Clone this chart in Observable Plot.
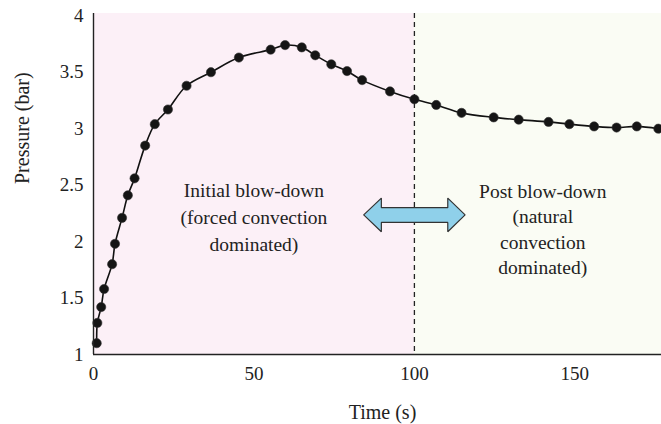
<!DOCTYPE html>
<html>
<head>
<meta charset="utf-8">
<script src="https://cdn.jsdelivr.net/npm/d3@7"></script>
<script src="https://cdn.jsdelivr.net/npm/@observablehq/plot@0.6"></script>
<style>
  html, body { margin: 0; padding: 0; background: #fff; }
  #chart { width: 661px; height: 424px; }
</style>
</head>
<body>
<div id="chart"></div>
<script>
const time = [1.0, 1.2, 2.4, 3.3, 5.8, 6.7, 8.9, 10.7, 12.8, 16.1, 19.1, 23.2, 29.0, 36.6, 45.3, 55.2, 59.7, 64.9, 69.1, 74.1, 79.0, 83.7, 92.4, 100, 106.8, 114.7, 124.7, 132.5, 141.8, 148.3, 156.0, 163.0, 169.3, 176.0];
const pressure = [1.10, 1.28, 1.42, 1.58, 1.80, 1.98, 2.21, 2.41, 2.56, 2.85, 3.04, 3.17, 3.38, 3.50, 3.63, 3.70, 3.74, 3.72, 3.65, 3.57, 3.51, 3.43, 3.33, 3.26, 3.21, 3.14, 3.10, 3.08, 3.06, 3.04, 3.02, 3.01, 3.02, 3.00];
const xTicks = [0, 50, 100, 150];
const yTicks = [1, 1.5, 2, 2.5, 3, 3.5, 4];
const regions = [
  {x1: 0, x2: 100, name: "initial"},
  {x1: 100, x2: 177, name: "post"}
];
const regionColors = ["#fcf0f7", "#fafcf4"];
const boundary = [100];
const labels = [
  {x: 50, y: 2.235, text: "Initial blow-down\n(forced convection\ndominated)", lh: 1.39},
  {x: 140, y: 2.12, text: "Post blow-down\n(natural\nconvection\ndominated)", lh: 1.3}
];
// double arrow outline (data coordinates)
const arrowX = [84.2, 89.7, 89.7, 110.4, 110.4, 115.8, 110.4, 110.4, 89.7, 89.7, 84.2];
const arrowY = [2.236, 2.385, 2.300, 2.300, 2.385, 2.236, 2.087, 2.170, 2.170, 2.087, 2.236];

const data = time.map((t, i) => ({t, p: pressure[i]}));
const arrow = arrowX.map((x, i) => ({x, y: arrowY[i]}));

const font = "Liberation Serif";

const chart = Plot.plot({
  width: 661,
  height: 424,
  marginLeft: 93,
  marginRight: 0,
  marginTop: 13,
  marginBottom: 70,
  style: "font-family: 'Liberation Serif', serif; font-size: 19px; color: #222; background: #fff;",
  x: {domain: [0, 177], ticks: xTicks, tickSize: 0, tickPadding: 12, label: null, tickFormat: d => String(d)},
  y: {domain: [1, 4.02], ticks: yTicks, tickSize: 0, tickPadding: 10, label: null, tickFormat: d => String(d)},
  marks: [
    Plot.rectY(regions, {x1: "x1", x2: "x2", y1: 1, y2: 4.02, fill: (d, i) => regionColors[i]}),
    Plot.ruleX(boundary, {stroke: "#222", strokeWidth: 1.3, strokeDasharray: "5,4"}),
    Plot.line(arrow, {x: "x", y: "y", fill: "#8fd0ea", stroke: "#333", strokeWidth: 1.2, strokeLinejoin: "miter"}),
    Plot.line(data, {x: "t", y: "p", stroke: "#111", strokeWidth: 1.6, curve: "catmull-rom"}),
    Plot.dot(data, {x: "t", y: "p", r: 4.6, fill: "#151515", stroke: "#333", strokeWidth: 0.6}),
    ...labels.map(l => Plot.text([l], {x: "x", y: "y", text: "text", lineHeight: l.lh, lineAnchor: "middle", fontSize: 19.5, fontFamily: font, fill: "#222"})),
    Plot.ruleX([0], {stroke: "#222", strokeWidth: 1.4}),
    Plot.ruleY([1], {stroke: "#222", strokeWidth: 1.4}),
    Plot.text(["Time (s)"], {frameAnchor: "bottom", dy: 58, dx: 5, lineAnchor: "middle", fontSize: 20, fontFamily: font, fill: "#222"}),
    Plot.text(["Pressure (bar)"], {frameAnchor: "left", dx: -71, rotate: -90, lineAnchor: "middle", fontSize: 20, fontFamily: font, fill: "#222"})
  ]
});
document.getElementById("chart").appendChild(chart);
</script>
</body>
</html>
